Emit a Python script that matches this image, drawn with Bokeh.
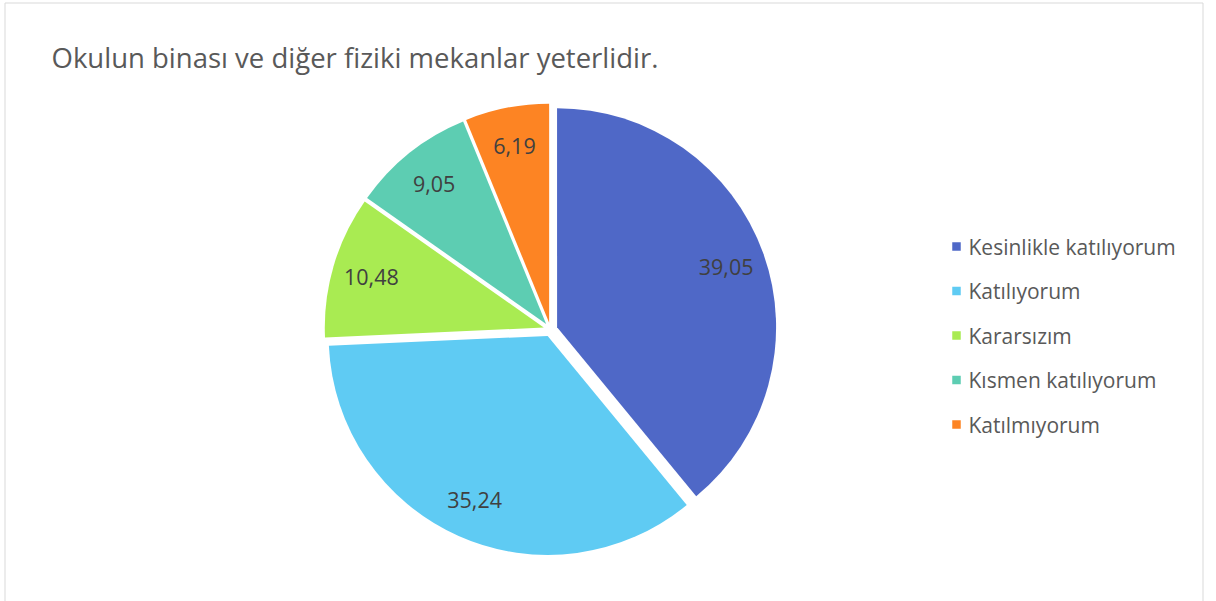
import math
from bokeh.plotting import figure
from bokeh.models import Range1d, ColumnDataSource
from bokeh.core.properties import value
from bokeh.embed import file_html
from bokeh.resources import INLINE

title_text = "Okulun binası ve diğer fiziki mekanlar yeterlidir."
categories = ["Kesinlikle katılıyorum", "Katılıyorum", "Kararsızım", "Kısmen katılıyorum", "Katılmıyorum"]
values = [39.05, 35.24, 10.48, 9.05, 6.19]
colors = ["#4F68C7", "#5FCBF3", "#A9EB52", "#5DCDB2", "#FD8423"]

FONT = "Open Sans"
W, H = 1216, 601

# geometry (data units == screen pixels, y measured upward)
CX, CY, R, EXPLODE = 550, 272, 219, 7
LABEL_FRAC = 0.82

p = figure(width=W, height=H, output_backend="svg", toolbar_location=None,
           x_axis_type=None, y_axis_type=None,
           x_range=Range1d(0, W), y_range=Range1d(0, H),
           min_border=0)
p.grid.visible = False
p.outline_line_color = None
p.background_fill_color = "white"
p.border_fill_color = "white"

# chart-area border (left, top, right)
p.segment(x0=[4.5, 4.5, 1202.5], y0=[0, H - 2.5, 0], x1=[4.5, 1202.5, 1202.5], y1=[H - 2.5, H - 2.5, H - 2.5],
          line_color="#D9D9D9", line_width=1)

total = sum(values)
starts, ends, xs, ys, lx, ly, labels = [], [], [], [], [], [], []
cum = 0.0
for v in values:
    a0 = math.pi / 2 - 2 * math.pi * cum / total
    a1 = math.pi / 2 - 2 * math.pi * (cum + v) / total
    mid = (a0 + a1) / 2
    cx = CX + EXPLODE * math.cos(mid)
    cy = CY + EXPLODE * math.sin(mid)
    starts.append(a1)
    ends.append(a0)
    xs.append(cx)
    ys.append(cy)
    lx.append(cx + LABEL_FRAC * R * math.cos(mid))
    ly.append(cy + LABEL_FRAC * R * math.sin(mid))
    labels.append(f"{v:.2f}".replace(".", ","))
    cum += v

src = ColumnDataSource(dict(x=xs, y=ys, start=starts, end=ends, color=colors,
                            lx=lx, ly=ly, label=labels))
p.wedge(x="x", y="y", radius=R, start_angle="start", end_angle="end",
        fill_color="color", line_color=None, source=src)
p.text(x="lx", y="ly", text="label", source=src, text_align="center",
       text_baseline="middle", text_font=value(FONT), text_font_size="21.5px",
       text_color="#404040")

# title
p.text(x=[51], y=[H - 57], text=[title_text], text_align="left", text_baseline="alphabetic",
       text_font=value(FONT), text_font_size="27.5px", text_color="#595959")

# legend
LEG_X, LEG_TOP, LEG_STEP = 956, H - 246, 44.5
leg_y = [LEG_TOP - i * LEG_STEP for i in range(len(categories))]
leg_src = ColumnDataSource(dict(x=[LEG_X] * len(categories), tx=[LEG_X + 12] * len(categories),
                                y=leg_y, color=colors, name=categories))
p.scatter(x="x", y="y", marker="square", size=8.5, fill_color="color", line_color=None, source=leg_src)
p.text(x="tx", y="y", text="name", source=leg_src, text_align="left", text_baseline="middle",
       text_font=value(FONT), text_font_size="21px", text_color="#595959")

open("out.html", "w").write(file_html(p, INLINE))
